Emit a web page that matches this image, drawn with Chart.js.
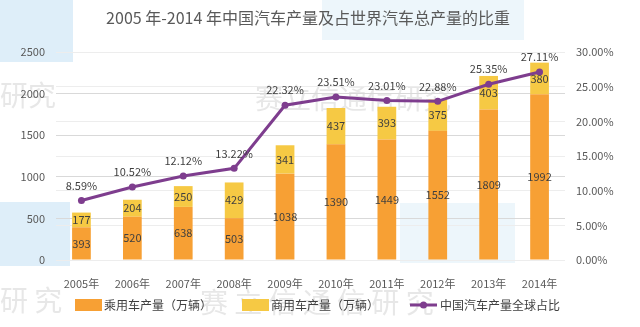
<!DOCTYPE html>
<html>
<head>
<meta charset="utf-8">
<script src="https://cdn.jsdelivr.net/npm/chart.js@4.4.1/dist/chart.umd.min.js"></script>
<style>
  html, body { margin: 0; padding: 0; background: #fff; }
</style>
</head>
<body>
<canvas id="chart" width="640" height="327"></canvas>
<script>
// ---- data ----
const YEARS = ['2005年', '2006年', '2007年', '2008年', '2009年', '2010年', '2011年', '2012年', '2013年', '2014年'];
const PASSENGER = [393, 520, 638, 503, 1038, 1390, 1449, 1552, 1809, 1992];
const COMMERCIAL = [177, 204, 250, 429, 341, 437, 393, 375, 403, 380];
const WORLD_SHARE = [8.59, 10.52, 12.12, 13.22, 22.32, 23.51, 23.01, 22.88, 25.35, 27.11];
const LEFT_TICKS = [0, 500, 1000, 1500, 2000, 2500];
const RIGHT_TICKS = [0, 5, 10, 15, 20, 25, 30];

const TITLE = '2005 年-2014 年中国汽车产量及占世界汽车总产量的比重';
const LEGEND = ['乘用车产量（万辆）', '商用车产量（万辆）', '中国汽车产量全球占比'];

// ---- look ----
const FONT = '"Noto Sans CJK SC", "Noto Sans", sans-serif';
const COLORS = {
  passenger: '#F7A034',
  commercial: '#F6C944',
  line: '#7E3D8E',
  text: '#595959',
  label: '#3f3f3f',
  grid: '#d9d9d9',
  grid2: '#ededed',
};

// background, watermark, title, legend and value labels
const decorPlugin = {
  id: 'decor',
  beforeDraw(chart) {
    const ctx = chart.ctx;
    ctx.save();
    ctx.fillStyle = '#fff';
    ctx.fillRect(0, 0, chart.width, chart.height);
    // pale blue watermark blocks
    ctx.fillStyle = 'rgba(214, 234, 247, 0.8)';
    ctx.fillRect(0, 0, 73, 62);
    ctx.fillRect(0, 202, 70, 64);
    ctx.fillStyle = 'rgba(214, 234, 247, 0.45)';
    ctx.fillRect(322, 0, 202, 40);
    ctx.fillRect(400, 203, 115, 60);
    // watermark text
    ctx.fillStyle = 'rgba(160, 160, 160, 0.25)';
    ctx.font = '28px ' + FONT;
    ctx.textBaseline = 'middle';
    ctx.fillText('研究', 0, 95);
    ctx.fillText('赛立信通信研究', 255, 98);
    ctx.fillText('研 究', 0, 300);
    ctx.fillText('赛 立 信 通 信 研 究', 200, 302);
    ctx.restore();
  },
  afterDatasetsDraw(chart) {
    const ctx = chart.ctx;
    ctx.save();
    ctx.textAlign = 'center';
    ctx.textBaseline = 'middle';
    ctx.font = '11px ' + FONT;
    ctx.fillStyle = COLORS.label;
    [0, 1].forEach(di => {
      const meta = chart.getDatasetMeta(di);
      meta.data.forEach((bar, i) => {
        const mid = (bar.y + bar.base) / 2;
        ctx.fillText(String(chart.data.datasets[di].data[i]), bar.x, mid);
      });
    });
    const lineMeta = chart.getDatasetMeta(2);
    lineMeta.data.forEach((pt, i) => {
      ctx.fillText(WORLD_SHARE[i].toFixed(2) + '%', pt.x, pt.y - 15);
    });
    ctx.restore();
  },
  afterDraw(chart) {
    const ctx = chart.ctx;
    ctx.save();
    // title
    ctx.fillStyle = COLORS.text;
    ctx.font = '16px ' + FONT;
    ctx.textAlign = 'center';
    ctx.textBaseline = 'middle';
    ctx.fillText(TITLE, 308, 18);

    // legend
    const ly = 305;
    ctx.font = '12px ' + FONT;
    ctx.textAlign = 'left';
    ctx.fillStyle = COLORS.passenger;
    ctx.fillRect(75, ly - 6, 27, 12);
    ctx.fillStyle = COLORS.commercial;
    ctx.fillRect(242, ly - 6, 27, 12);
    ctx.strokeStyle = COLORS.line;
    ctx.lineWidth = 3;
    ctx.beginPath();
    ctx.moveTo(410, ly);
    ctx.lineTo(437, ly);
    ctx.stroke();
    ctx.fillStyle = COLORS.line;
    ctx.beginPath();
    ctx.arc(423.5, ly, 3.5, 0, Math.PI * 2);
    ctx.fill();
    ctx.fillStyle = '#404040';
    ctx.fillText(LEGEND[0], 104, ly);
    ctx.fillText(LEGEND[1], 271, ly);
    ctx.fillText(LEGEND[2], 440, ly);
    ctx.restore();
  },
};

const ctx = document.getElementById('chart').getContext('2d');
new Chart(ctx, {
  type: 'bar',
  data: {
    labels: YEARS,
    datasets: [
      {
        label: LEGEND[0],
        data: PASSENGER,
        backgroundColor: COLORS.passenger,
        stack: 'car',
        yAxisID: 'y',
        order: 1,
        categoryPercentage: 0.8,
        barPercentage: 0.46,
      },
      {
        label: LEGEND[1],
        data: COMMERCIAL,
        backgroundColor: COLORS.commercial,
        stack: 'car',
        yAxisID: 'y',
        order: 1,
        categoryPercentage: 0.8,
        barPercentage: 0.46,
      },
      {
        type: 'line',
        label: LEGEND[2],
        data: WORLD_SHARE,
        borderColor: COLORS.line,
        backgroundColor: COLORS.line,
        borderWidth: 3,
        pointRadius: 3.5,
        pointBackgroundColor: COLORS.line,
        pointBorderWidth: 0,
        tension: 0,
        yAxisID: 'y1',
        order: 0,
      },
    ],
  },
  options: {
    responsive: false,
    devicePixelRatio: 1,
    animation: false,
    layout: { padding: { top: 52, bottom: 37, left: 0, right: 0 } },
    plugins: {
      legend: { display: false },
      title: { display: false },
      tooltip: { enabled: false },
    },
    scales: {
      x: {
        stacked: true,
        grid: { display: false },
        border: { display: false },
        ticks: { color: COLORS.text, font: { family: FONT, size: 11 }, padding: 9, maxRotation: 0 },
        afterFit: s => { s.height = 30; },
      },
      y: {
        stacked: true,
        position: 'left',
        min: 0,
        max: 2500,
        afterBuildTicks: s => { s.ticks = LEFT_TICKS.map(v => ({ value: v })); },
        grid: { color: COLORS.grid, drawTicks: false },
        border: { display: false },
        ticks: {
          color: COLORS.text,
          font: { family: FONT, size: 11 },
          padding: 11,
          callback: v => String(v),
        },
        afterFit: s => { s.width = 56; },
      },
      y1: {
        position: 'right',
        min: 0,
        max: 30,
        afterBuildTicks: s => { s.ticks = RIGHT_TICKS.map(v => ({ value: v })); },
        grid: { color: COLORS.grid2, drawTicks: false },
        border: { display: false },
        ticks: {
          color: COLORS.text,
          font: { family: FONT, size: 11 },
          padding: 11,
          callback: v => v.toFixed(2) + '%',
        },
        afterFit: s => { s.width = 75; },
      },
    },
  },
  plugins: [decorPlugin],
});
</script>
</body>
</html>
